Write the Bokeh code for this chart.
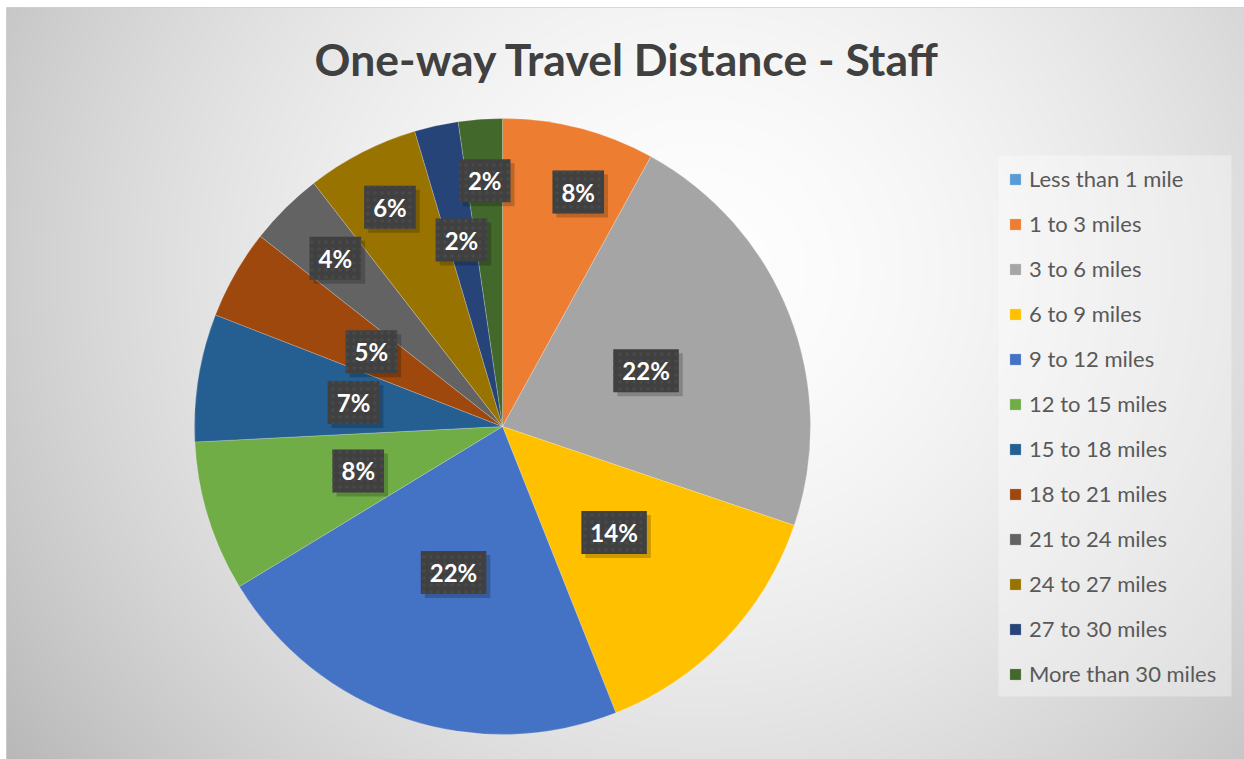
import numpy as np
from bokeh.plotting import figure
from bokeh.models import ColumnDataSource, Range1d
from bokeh.core.properties import value
from bokeh.embed import file_html
from bokeh.resources import INLINE

# ---------------- data ----------------
categories = ["Less than 1 mile", "1 to 3 miles", "3 to 6 miles", "6 to 9 miles",
              "9 to 12 miles", "12 to 15 miles", "15 to 18 miles", "18 to 21 miles",
              "21 to 24 miles", "24 to 27 miles", "27 to 30 miles", "More than 30 miles"]
shares = [0.0, 8.0, 22.2, 13.8, 22.3, 7.9, 6.7, 4.7, 3.9, 5.9, 2.3, 2.3]
colors = ["#5B9BD5", "#ED7D31", "#A5A5A5", "#FFC000", "#4472C4", "#70AD47",
          "#255E91", "#9E480E", "#636363", "#997300", "#264478", "#43682B"]
title_text = "One-way Travel Distance - Staff"

# ---------------- layout ----------------
LB, TB = 6, 7            # white border left / top
FW, FH = 1238, 752       # frame size
CX, CY, R = 496, 333, 308
label_dist = [0, 0.80, 0.50, 0.50, 0.50, 0.49, 0.49, 0.49, 0.77, 0.80, 0.62, 0.80]
label_turn = [0, -3.5, 0, 0, 0, 0, 0, 0, 0, 0, 0, 0]   # degrees, clockwise nudge

vals = np.array(shares, dtype=float)
frac = vals / vals.sum()
cum_end = np.cumsum(frac)
cum_start = cum_end - frac
start = np.pi / 2 - 2 * np.pi * cum_start
end = np.pi / 2 - 2 * np.pi * cum_end
mid = (start + end) / 2 + np.radians(label_turn)
radius = np.where(vals > 0, R, 0.0)

src = ColumnDataSource(dict(cat=categories, start=start, end=end, color=colors,
                            r=radius))

keep = vals > 0
ld = np.array(label_dist)
lsrc = ColumnDataSource(dict(
    x=(CX + ld * R * np.cos(mid))[keep],
    y=(CY + ld * R * np.sin(mid))[keep],
    t=[f"{round(f * 100)}%" for f in frac[keep]],
))

p = figure(width=LB + FW, height=TB + FH, output_backend="svg", toolbar_location=None,
           x_range=Range1d(0, FW), y_range=Range1d(0, FH),
           x_axis_type=None, y_axis_type=None,
           min_border_left=LB, min_border_top=TB, min_border_right=0,
           min_border_bottom=0, outline_line_color="#d0d0d0")
p.grid.visible = False
p.background_fill_color = "#e0e0e0"
p.border_fill_color = "white"

# background radial gradient
step = 3
nx, ny = FW // step + 1, FH // step + 1
xs = (np.arange(nx) + 0.5) * FW / nx
ys = (np.arange(ny) + 0.5) * FH / ny
XX, YY = np.meshgrid(xs, ys)
sx = XX + LB
sy = TB + FH - YY
d = np.sqrt(((sx - 700) / 1.0) ** 2 + ((sy - 270) / 0.95) ** 2) / 820.0
g = np.clip(254 - 64 * d ** 1.7, 170, 255).astype(np.uint8)
rgba = np.zeros((ny, nx, 4), dtype=np.uint8)
rgba[..., 0] = g
rgba[..., 1] = g
rgba[..., 2] = g
rgba[..., 3] = 255
img = rgba.view(dtype=np.uint32).reshape((ny, nx))
p.image_rgba(image=[img], x=0, y=0, dw=FW, dh=FH)

# legend panel
p.quad(left=[992], right=[1225], bottom=[63], top=[604],
       fill_color="white", fill_alpha=0.35, line_color=None)

# pie
p.wedge(x=CX, y=CY, radius="r", start_angle="start", end_angle="end",
        direction="clock", fill_color="color", line_color="white",
        line_alpha=0.35, line_width=0.6, source=src, legend_field="cat")

# label shadows
p.text(x="x", y="y", text="t", source=lsrc, text_font=value("Lato"),
       text_font_style="bold", text_font_size="24px", text_alpha=0,
       text_align="center", text_baseline="middle",
       background_fill_color="black", background_fill_alpha=0.2,
       padding=(9, 7), x_offset=4, y_offset=4)
# labels
p.text(x="x", y="y", text="t", source=lsrc, text_font=value("Lato"),
       text_font_style="bold", text_font_size="24px", text_color="white",
       text_align="center", text_baseline="middle",
       background_fill_color="#404040", background_hatch_pattern="dot",
       background_hatch_color="#494949", background_hatch_scale=7,
       background_hatch_weight=1, padding=(9, 7))

# title
p.text(x=[621], y=[701], text=[title_text], text_font=value("Lato"),
       text_font_style="bold", text_font_size="44.5px", text_color="#404040",
       text_align="center", text_baseline="alphabetic")

leg = p.legend[0]
leg.location = (1002, 72)
leg.label_text_font = "Lato"
leg.label_text_font_size = "22px"
leg.label_text_color = "#595959"
leg.glyph_width = 14
leg.glyph_height = 14
leg.label_standoff = 7
leg.label_height = 26
leg.spacing = 18
leg.padding = 0
leg.margin = 0
leg.border_line_color = None
leg.background_fill_alpha = 0

open("out.html", "w").write(file_html(p, INLINE))
